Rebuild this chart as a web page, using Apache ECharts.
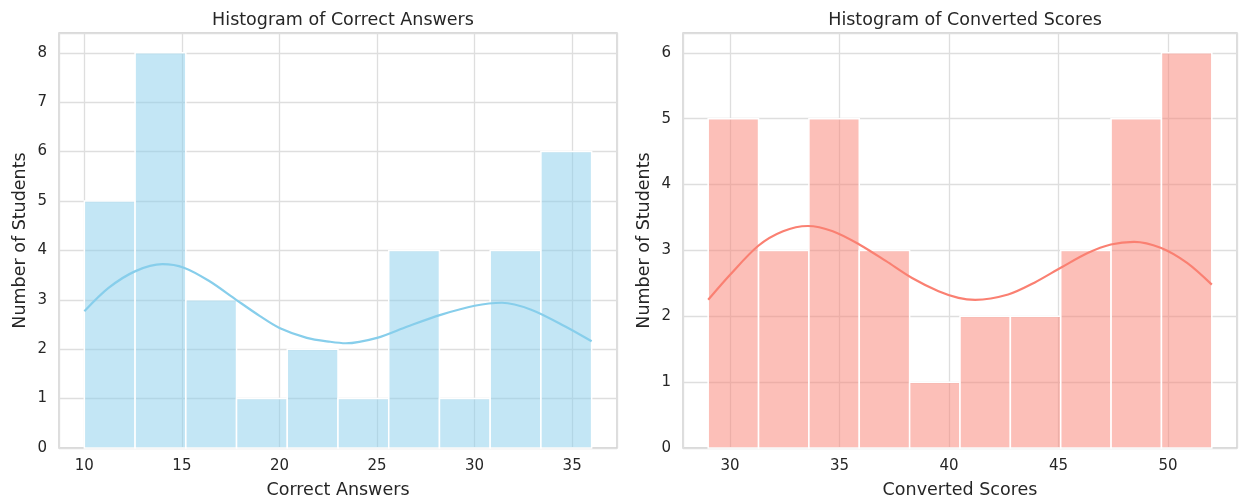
<!DOCTYPE html>
<html>
<head>
<meta charset="utf-8">
<script src="https://cdn.jsdelivr.net/npm/echarts@6/dist/echarts.min.js"></script>
<style>
html,body{margin:0;padding:0;background:#fff;}
#chart{width:1239px;height:501px;}
</style>
</head>
<body>
<div id="chart"></div>
<script>
// ---- data ----
const answerBinEdges = [10, 12.6, 15.2, 17.8, 20.4, 23.0, 25.6, 28.2, 30.8, 33.4, 36];
const answerCounts = [5, 8, 3, 1, 2, 1, 4, 1, 4, 6];
const answerKdeX = [10, 11.24, 12.62, 14.0, 15.1, 16.4, 17.78, 19.0, 20.0, 21.4, 22.6, 23.4, 25.0, 26.56, 28.3, 30.0, 31.4, 32.9, 34.65, 36];
const answerKdeY = [2.77, 3.24, 3.58, 3.72, 3.65, 3.38, 3.0, 2.67, 2.43, 2.23, 2.15, 2.12, 2.23, 2.46, 2.70, 2.88, 2.94, 2.80, 2.46, 2.16];

const scoreBinEdges = [29, 31.3, 33.6, 35.9, 38.2, 40.5, 42.8, 45.1, 47.4, 49.7, 52];
const scoreCounts = [5, 3, 5, 3, 1, 2, 2, 3, 5, 6];
const scoreKdeX = [29, 30, 31.29, 32.42, 33.55, 34.69, 35.9, 37.11, 38.31, 39.52, 40.43, 41.19, 42.7, 43.9, 45.12, 46.33, 47.39, 48.45, 49.66, 50.87, 52];
const scoreKdeY = [2.25, 2.63, 3.07, 3.29, 3.37, 3.29, 3.09, 2.84, 2.58, 2.38, 2.28, 2.25, 2.33, 2.51, 2.74, 2.96, 3.09, 3.13, 3.04, 2.81, 2.48];

const titles = ['Histogram of Correct Answers', 'Histogram of Converted Scores'];
const xNames = ['Correct Answers', 'Converted Scores'];
const yName = 'Number of Students';

// ---- helpers ----
function binData(edges, counts) {
  return counts.map((c, i) => [edges[i], edges[i + 1], c]);
}
function pad(edges, counts) {
  const lo = edges[0], hi = edges[edges.length - 1];
  const m = (hi - lo) * 0.05;
  const ymax = Math.max.apply(null, counts) * 1.05;
  return { xmin: lo - m, xmax: hi + m, ymax: ymax };
}
const textColor = '#262626';
const font = 'DejaVu Sans';
const gridColor = '#dedede';
const frameColor = '#cccccc';

const a = pad(answerBinEdges, answerCounts);
const s = pad(scoreBinEdges, scoreCounts);

function xAxisCfg(idx, r, name) {
  return {
    type: 'value', gridIndex: idx, min: r.xmin, max: r.xmax, splitNumber: 5,
    name: name, nameLocation: 'middle', nameGap: 33,
    nameTextStyle: { color: textColor, fontFamily: font, fontSize: 17.5 },
    axisLine: { show: false }, axisTick: { show: false },
    axisLabel: {
      color: textColor, fontFamily: font, fontSize: 15, margin: 11,
      showMinLabel: false, showMaxLabel: false,
      formatter: v => (Math.abs(v / 5 - Math.round(v / 5)) < 1e-6 ? String(Math.round(v)) : '')
    },
    splitLine: { show: true, lineStyle: { color: gridColor, width: 1.3 } }
  };
}
function yAxisCfg(idx, r) {
  return {
    type: 'value', gridIndex: idx, min: 0, max: r.ymax, interval: 1,
    name: yName, nameLocation: 'middle', nameGap: 30,
    nameTextStyle: { color: textColor, fontFamily: font, fontSize: 17.5 },
    axisLine: { show: false }, axisTick: { show: false },
    axisLabel: {
      color: textColor, fontFamily: font, fontSize: 15, margin: 12,
      showMaxLabel: false,
      formatter: v => (Math.abs(v - Math.round(v)) < 1e-6 ? String(Math.round(v)) : '')
    },
    splitLine: { show: true, lineStyle: { color: gridColor, width: 1.3 } }
  };
}
function histSeries(idx, data, fill) {
  return {
    type: 'custom', xAxisIndex: idx, yAxisIndex: idx, z: 2,
    data: data,
    encode: { x: [0, 1], y: 2 },
    renderItem: function (params, api) {
      const p0 = api.coord([api.value(0), api.value(2)]);
      const p1 = api.coord([api.value(1), 0]);
      return {
        type: 'rect',
        shape: { x: p0[0], y: p0[1], width: p1[0] - p0[0], height: p1[1] - p0[1] },
        style: { fill: fill, stroke: '#ffffff', lineWidth: 1.5 }
      };
    }
  };
}
function kdeSeries(idx, xs, ys, color) {
  return {
    type: 'line', xAxisIndex: idx, yAxisIndex: idx, z: 3,
    data: xs.map((x, i) => [x, ys[i]]),
    smooth: 0.3, showSymbol: false, symbol: 'none',
    lineStyle: { color: color, width: 2.2 }, silent: true
  };
}

const chart = echarts.init(document.getElementById('chart'), null, { renderer: 'canvas' });
chart.setOption({
  animation: false,
  backgroundColor: '#ffffff',
  title: [
    { text: titles[0], left: 338, top: 6, textAlign: 'center',
      textStyle: { color: textColor, fontFamily: font, fontSize: 17.5, fontWeight: 'normal' } },
    { text: titles[1], left: 960, top: 6, textAlign: 'center',
      textStyle: { color: textColor, fontFamily: font, fontSize: 17.5, fontWeight: 'normal' } }
  ],
  grid: [
    { left: 59, top: 33, width: 558, height: 415, show: true, borderColor: frameColor, borderWidth: 1.3,
      containLabel: false, outerBoundsMode: 'none' },
    { left: 683, top: 33, width: 554, height: 415, show: true, borderColor: frameColor, borderWidth: 1.3,
      containLabel: false, outerBoundsMode: 'none' }
  ],
  xAxis: [xAxisCfg(0, a, xNames[0]), xAxisCfg(1, s, xNames[1])],
  yAxis: [yAxisCfg(0, a), yAxisCfg(1, s)],
  series: [
    histSeries(0, binData(answerBinEdges, answerCounts), 'rgba(135,206,235,0.5)'),
    kdeSeries(0, answerKdeX, answerKdeY, '#87CEEB'),
    histSeries(1, binData(scoreBinEdges, scoreCounts), 'rgba(250,128,114,0.5)'),
    kdeSeries(1, scoreKdeX, scoreKdeY, '#FA8072')
  ]
});
</script>
</body>
</html>
